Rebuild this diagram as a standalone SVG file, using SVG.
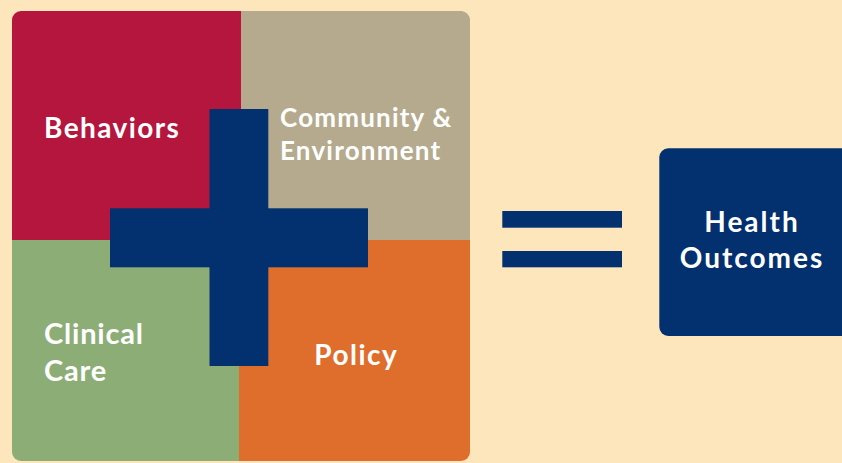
<svg xmlns="http://www.w3.org/2000/svg" width="842" height="463" viewBox="0 0 842 463">
<defs>
<style>
.lbl{font-family:Lato,"Noto Sans",sans-serif;font-weight:700;fill:#ffffff;}
.navy{fill:#03306E;}
</style>
<clipPath id="quadClip"><rect x="12" y="11" width="458" height="450" rx="9"/></clipPath>
</defs>
<rect x="0" y="0" width="842" height="463" fill="#FEE6BC"/>
<g clip-path="url(#quadClip)">
<g id="behaviors">
<rect x="12" y="11" width="229" height="229" fill="#B5163E"/>
<text class="lbl" x="44" y="137.7" font-size="28" letter-spacing="1.4">Behaviors</text>
</g>
<g id="community">
<rect x="241" y="11" width="229" height="229" fill="#B5AA8D"/>
<text class="lbl" x="280" y="127" font-size="26" letter-spacing="1.2">Community &amp;</text>
<text class="lbl" x="280" y="160" font-size="26" letter-spacing="1.2">Environment</text>
</g>
<g id="clinical">
<rect x="12" y="240" width="227" height="223" fill="#8CAD76"/>
<text class="lbl" x="44" y="344.3" font-size="29" letter-spacing="0.8">Clinical</text>
<text class="lbl" x="44" y="381" font-size="29" letter-spacing="0.8">Care</text>
</g>
<g id="policy">
<rect x="239" y="240" width="231" height="223" fill="#DF6E2C"/>
<text class="lbl" x="356.3" y="365" font-size="28" text-anchor="middle" letter-spacing="1.5">Policy</text>
</g>
</g>
<g id="plus" class="navy">
<rect x="209.5" y="109" width="58.8" height="257"/>
<rect x="110" y="208.3" width="258" height="59"/>
</g>
<g id="equals" class="navy">
<rect x="502.3" y="211" width="119.7" height="16.7"/>
<rect x="502.3" y="251" width="119.7" height="16.3"/>
</g>
<g id="health-outcomes">
<rect x="659.3" y="148.3" width="192" height="187.7" rx="9" class="navy"/>
<text class="lbl" x="752" y="231.7" font-size="28" text-anchor="middle" letter-spacing="2">Health</text>
<text class="lbl" x="752" y="267.7" font-size="28" text-anchor="middle" letter-spacing="2">Outcomes</text>
</g>
<g id="connectors"/>
</svg>
